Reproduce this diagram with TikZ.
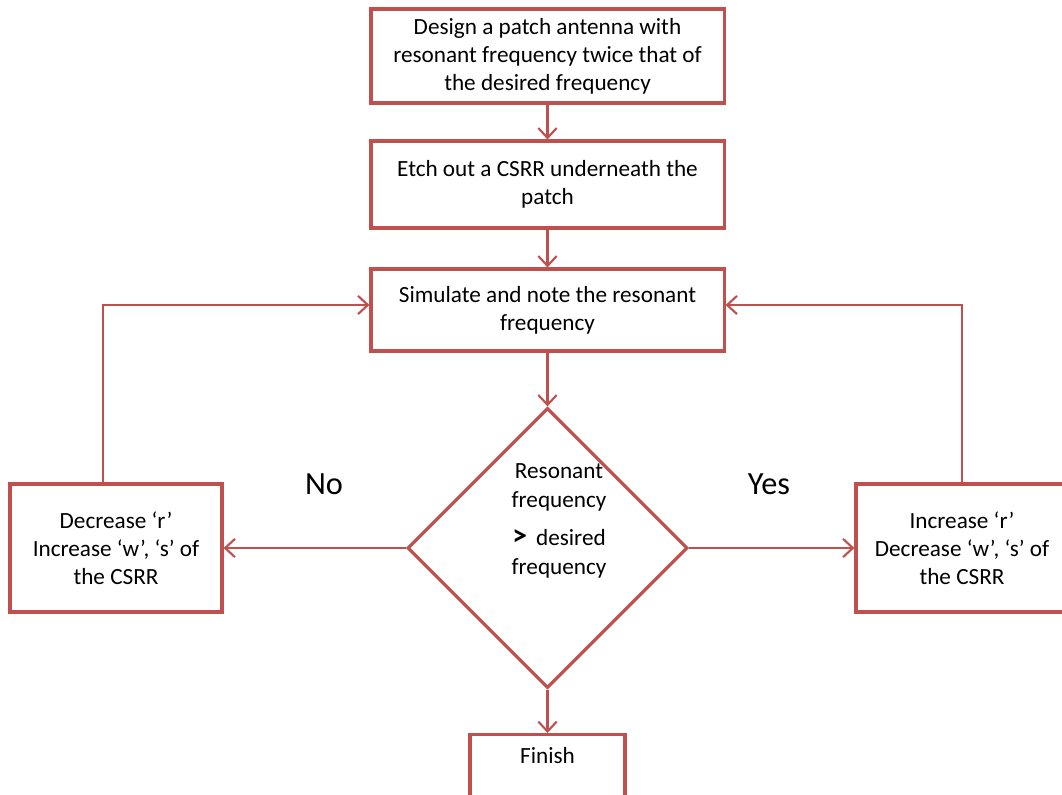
\documentclass[tikz,border=0pt]{standalone}
\usepackage{fontspec}
\setmainfont{Carlito}
\usepackage{xcolor}
\usetikzlibrary{shapes.geometric,arrows.meta,positioning,calc}
\definecolor{flowred}{RGB}{192,80,77}

\begin{document}
\begin{tikzpicture}[x=0.025cm,y=-0.025cm,
    box/.style={draw=flowred, line width=2.2pt, fill=white, align=center,
        font=\fontsize{16.5}{20}\selectfont, inner sep=0pt},
    flow/.style={draw=flowred, line width=1.5pt,
        -{Straight Barb[length=7pt,width=13pt,line width=1.5pt]}},
    answer/.style={font=\fontsize{23}{26}\selectfont}]
            % Khung ảnh
            \useasboundingbox (0,0) rectangle (1062,794);

            % Các bước chính
            \node[box, minimum width=8.825cm, minimum height=2.35cm] (design) at (547.5,56)
                {Design a patch antenna with\\resonant frequency twice that of\\the desired frequency};
            \node[box, minimum width=8.825cm, minimum height=2.175cm] (etch) at (547.5,184.5)
                {Etch out a CSRR underneath the\\patch};
            \node[box, minimum width=8.825cm, minimum height=2.05cm] (sim) at (547.5,310)
                {Simulate and note the resonant\\frequency};

            % Ô quyết định
            \node[diamond, draw=flowred, line width=2.2pt, fill=white, aspect=1,
                minimum width=7cm, minimum height=7cm, inner sep=0pt] (check) at (547.5,548) {};
            \node[align=center, font=\fontsize{16.5}{20.5}\selectfont] (checktext) at (559,521)
                {Resonant\\frequency\\[7pt]{\fontsize{21}{21}\selectfont\textbf{>}}\, desired\\frequency};

            % Hai nhánh
            \node[box, minimum width=5.3cm, minimum height=3.2cm] (decr) at (116,548)
                {Decrease ‘r’\\Increase ‘w’, ‘s’ of\\the CSRR};
            \node[box, minimum width=5.3cm, minimum height=3.2cm] (incr) at (962,548)
                {Increase ‘r’\\Decrease ‘w’, ‘s’ of\\the CSRR};

            % Kết thúc
            \node[box, minimum width=3.875cm, anchor=north, text height=0.4cm,
                text depth=1.2cm, inner ysep=0.33cm] (finish) at (547.5,733) {Finish};

            % Nhãn
            \node[answer] (no) at (324,484) {No};
            \node[answer] (yes) at (769,484) {Yes};

            % Mũi tên
            \draw[flow] (design) -- (etch);
            \draw[flow] (etch) -- (sim);
            \draw[flow] (sim) -- (check);
            \draw[flow] (check.west) -- (decr.east);
            \draw[flow] (check.east) -- (incr.west);
            \draw[flow] (check.south) -- (finish.north);
            \draw[flow] ([xshift=-0.325cm]decr.north) |- ([yshift=0.125cm]sim.west);
            \draw[flow] (incr.north) |- ([yshift=0.125cm]sim.east);
        \end{tikzpicture}
\end{document}
